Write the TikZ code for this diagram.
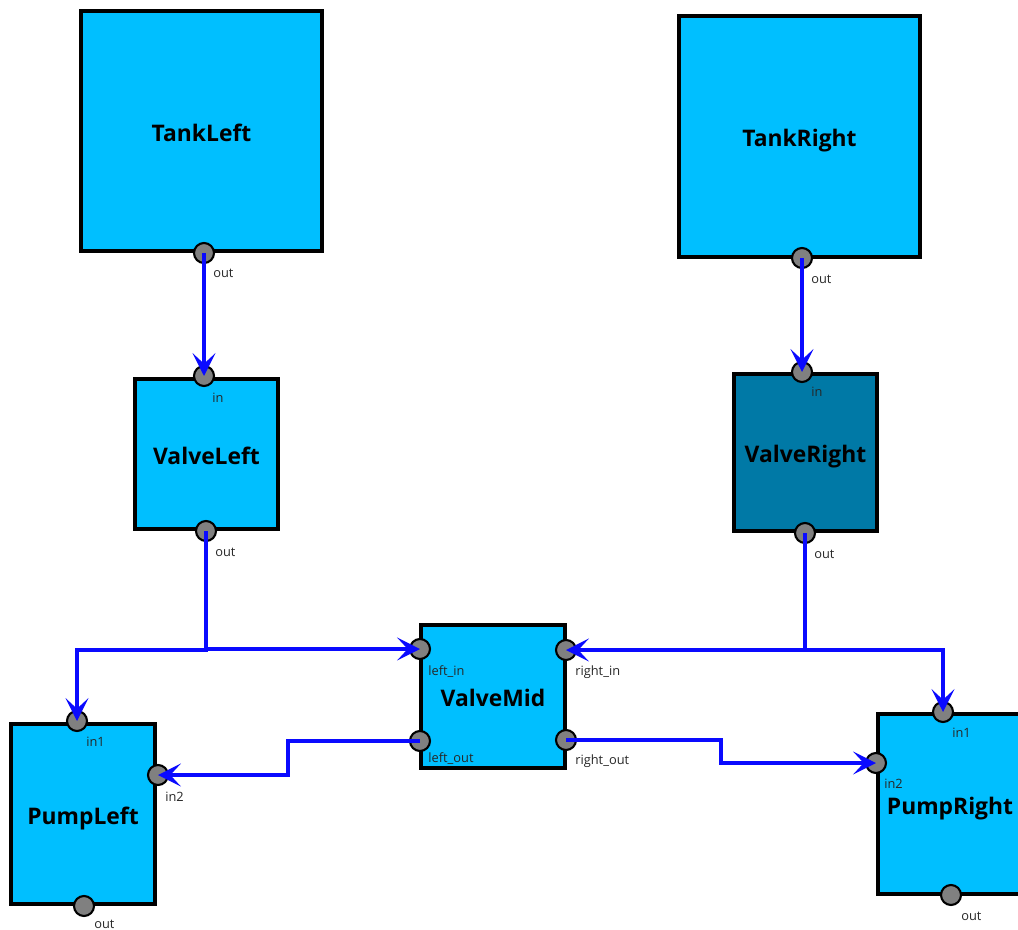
\documentclass[tikz,border=0pt]{standalone}
\usepackage{fontspec}
\setmainfont{Open Sans}
\usetikzlibrary{arrows.meta}
\definecolor{boxfill}{HTML}{00BFFF}
\definecolor{boxdark}{HTML}{0079A6}
\definecolor{portgray}{HTML}{808080}
\definecolor{wireblue}{HTML}{0A0AFF}
\tikzset{
  block/.style={draw=black, line width=2pt, fill=boxfill, inner sep=0pt,
    text height=11.5pt, text depth=0pt,
    font=\bfseries\fontsize{13}{15}\selectfont},
  port/.style={circle, draw=black, line width=1.2pt, fill=portgray,
    minimum size=0.4cm, inner sep=0pt},
  plabel/.style={anchor=north west, inner sep=0pt,
    font=\fontsize{7.3}{9}\selectfont, text=black!85},
  wire/.style={draw=wireblue, line width=2pt,
    -{Stealth[length=13pt, width=13pt, inset=6pt]}}
}
\begin{document}
\begin{tikzpicture}[x=0.02cm, y=-0.02cm]
  \useasboundingbox (0,0) rectangle (1018,930);
  \begin{scope}
  \clip (0,0) rectangle (1018,930);

  % components
  \node[block, minimum width=4.82cm, minimum height=4.8cm] (tankL) at (201.5,131) {TankLeft};
  \node[block, minimum width=4.82cm, minimum height=4.82cm] (tankR) at (799.5,136.5) {TankRight};
  \node[block, minimum width=2.86cm, minimum height=3.0cm] (valveL) at (206.5,454) {ValveLeft};
  \node[block, fill=boxdark, minimum width=2.86cm, minimum height=3.14cm] (valveR) at (805.5,452.5) {ValveRight};
  \node[block, minimum width=2.88cm, minimum height=2.86cm] (valveM) at (493,696.5) {ValveMid};
  \node[block, minimum width=2.88cm, minimum height=3.6cm] (pumpL) at (83,814) {PumpLeft};
  \node[block, minimum width=2.88cm, minimum height=3.6cm] (pumpR) at (950,804) {PumpRight};

  % ports
  \node[port] (tankL-out) at (204,253) {};
  \node[port] (tankR-out) at (802,258) {};
  \node[port] (valveL-in) at (204,376) {};
  \node[port] (valveL-out) at (206,531) {};
  \node[port] (valveR-in) at (802,372) {};
  \node[port] (valveR-out) at (805,533) {};
  \node[port] (valveM-lin) at (420,649) {};
  \node[port] (valveM-rin) at (566,650) {};
  \node[port] (valveM-lout) at (420,741) {};
  \node[port] (valveM-rout) at (566,740) {};
  \node[port] (pumpL-in1) at (77,721) {};
  \node[port] (pumpL-in2) at (158,775) {};
  \node[port] (pumpL-out) at (84,906) {};
  \node[port] (pumpR-in1) at (943,712) {};
  \node[port] (pumpR-in2) at (876,763) {};
  \node[port] (pumpR-out) at (951,895) {};

  % port names, set below right of each port
  \node[plabel] (tankL-out-t) at ([shift={(9,16)}]tankL-out.center) {out};
  \node[plabel] (tankR-out-t) at ([shift={(9,17)}]tankR-out.center) {out};
  \node[plabel] (valveL-in-t) at ([shift={(8,17)}]valveL-in.center) {in};
  \node[plabel] (valveL-out-t) at ([shift={(9,17)}]valveL-out.center) {out};
  \node[plabel] (valveR-in-t) at ([shift={(9,15)}]valveR-in.center) {in};
  \node[plabel] (valveR-out-t) at ([shift={(9,17)}]valveR-out.center) {out};
  \node[plabel] (valveM-lin-t) at ([shift={(8,16)}]valveM-lin.center) {left\_in};
  \node[plabel] (valveM-rin-t) at ([shift={(9,15)}]valveM-rin.center) {right\_in};
  \node[plabel] (valveM-lout-t) at ([shift={(8,11)}]valveM-lout.center) {left\_out};
  \node[plabel] (valveM-rout-t) at ([shift={(9,14)}]valveM-rout.center) {right\_out};
  \node[plabel] (pumpL-in1-t) at ([shift={(9,16)}]pumpL-in1.center) {in1};
  \node[plabel] (pumpL-in2-t) at ([shift={(7,17)}]pumpL-in2.center) {in2};
  \node[plabel] (pumpL-out-t) at ([shift={(10,14)}]pumpL-out.center) {out};
  \node[plabel] (pumpR-in1-t) at ([shift={(9,16)}]pumpR-in1.center) {in1};
  \node[plabel] (pumpR-in2-t) at ([shift={(8,16)}]pumpR-in2.center) {in2};
  \node[plabel] (pumpR-out-t) at ([shift={(10,17)}]pumpR-out.center) {out};

  % connections
  \draw[wire] (tankL-out.center) -- (valveL-in.center);
  \draw[wire] (tankR-out.center) -- (valveR-in.center);
  \draw[wire] (valveL-out.center) |- (valveM-lin.center);
  \draw[wire] (valveL-out.center) -- (206,650) -| (pumpL-in1.center);
  \draw[wire] (valveR-out.center) |- (valveM-rin.center);
  \draw[wire] (valveR-out.center) -- (805,650) -| (pumpR-in1.center);
  \draw[wire] (valveM-lout.center) -- (288,741) |- (pumpL-in2.center);
  \draw[wire] (valveM-rout.center) -- (721,740) |- (pumpR-in2.center);
  \end{scope}
\end{tikzpicture}
\end{document}
